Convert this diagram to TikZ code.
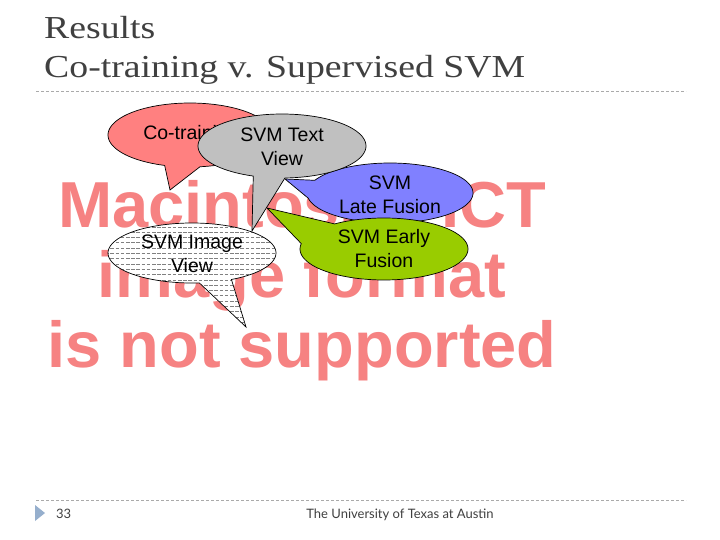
\documentclass[tikz,border=0pt]{standalone}
\usepackage{fontspec}
\setmainfont{Liberation Sans}
\newfontfamily\titlefont[FakeStretch=1.18]{Liberation Serif}
\newfontfamily\footfont{Lato}
\definecolor{titlegray}{RGB}{64,64,64}
\definecolor{wm}{RGB}{246,130,130}
\definecolor{cored}{RGB}{255,128,128}
\definecolor{cogray}{RGB}{192,192,192}
\definecolor{coblue}{RGB}{128,128,255}
\definecolor{cogreen}{RGB}{153,204,0}
\definecolor{rulegray}{RGB}{170,170,170}
\definecolor{tri}{RGB}{150,175,205}
\newcommand\bpath[8]{plot[domain=#5:#6, samples=100, variable=\t] ({#1+#3*cos(\t)},{#2+#4*sin(\t)}) -- (#7,#8) -- cycle}
\tikzset{
  outl/.style={draw=black, line width=0.7pt, line join=miter},
  btext/.style={font=\fontsize{19.5}{24}\selectfont, align=center, inner sep=0pt, text=black},
  wmtext/.style={font=\bfseries\fontsize{65}{70}\selectfont, text=wm, inner sep=0pt, anchor=base},
  ttext/.style={font=\titlefont\fontsize{32}{38}\selectfont, text=titlegray, inner sep=0pt, anchor=base west},
  rule/.style={draw=rulegray, line width=0.8pt, dash pattern=on 3pt off 2pt},
  hatch/.style={draw=gray, line width=0.5pt, dash pattern=on 3.5pt off 1.7pt}
}
\begin{document}
\begin{tikzpicture}[x=1pt,y=-1pt]
\useasboundingbox (0,0) rectangle (720,540);
\fill[white] (0,0) rectangle (720,540);
% title
\node[ttext] (title1) at (44,39) {Results};
\node[ttext] (title2) at (44,78) {Co-training v. Supervised SVM};
\coordinate (r1a) at (36,91); \coordinate (r1b) at (686,91);
\draw[rule] (r1a) -- (r1b);
% watermark
\node[wmtext] (w1) at (302,227) {Macintosh PICT};
\node[wmtext] (w2) at (302,297) {image format};
\node[wmtext] (w3) at (302,367) {is not supported};
% Co-training callout
\coordinate (tipA) at (170,190);
\path[outl, fill=cored] \bpath{190}{135}{82}{32}{108}{443}{170}{190};
\node[btext] (cot) at (191,134) {Co-training};
% Late fusion callout
\path[outl, fill=coblue] \bpath{390}{193}{83}{30}{205}{530}{285}{179};
\node[btext] (late) at (390,195) {SVM\\Late Fusion};
% Text view callout
\path[outl, fill=cogray] \bpath{282}{146}{84}{32}{110}{448}{252}{231};
\node[btext] (textv) at (282,147) {SVM Text\\View};
% Early fusion callout
\path[outl, fill=cogreen] \bpath{384}{249}{84}{31}{234}{550}{267}{208};
\node[btext] (early) at (384,249) {SVM Early\\Fusion};
% Image view callout
\begin{scope}
\path[clip] \bpath{192}{253}{84}{30}{85}{422}{246}{327};
\fill[white] (100,215) rectangle (290,335);
\foreach \yy in {221.5,226.8,...,335} \draw[hatch] (100,\yy) -- (290,\yy);
\end{scope}
\path[outl] \bpath{192}{253}{84}{30}{85}{422}{246}{327};
\node[btext] (imgv) at (192,254) {SVM Image\\View};
% footer
\coordinate (r2a) at (36,500); \coordinate (r2b) at (686,500);
\draw[rule] (r2a) -- (r2b);
\fill[tri] (35,505) -- (45,513) -- (35,521) -- cycle;
\node[font=\footfont\fontsize{13}{15}\selectfont, text=titlegray, anchor=base west, inner sep=0] (pg) at (56,518) {33};
\node[font=\footfont\fontsize{13}{15}\selectfont, text=titlegray, anchor=base, inner sep=0] (univ) at (400,518) {The University of Texas at Austin};
\end{tikzpicture}
\end{document}
